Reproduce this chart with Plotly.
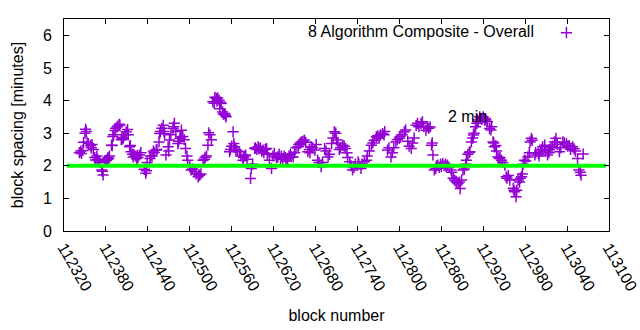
import plotly.graph_objects as go

# block numbers and block spacing (minutes)
blocks = [
    112342, 112344, 112345, 112347, 112348, 112350, 112351, 112352, 112353, 112355,
    112358, 112359, 112360, 112362, 112364, 112365, 112367, 112368, 112370, 112371,
    112374, 112375, 112376, 112378, 112379, 112381, 112382, 112383, 112384, 112385,
    112388, 112389, 112390, 112391, 112393, 112394, 112396, 112397, 112399, 112400,
    112402, 112403, 112404, 112405, 112407, 112409, 112411, 112412, 112414, 112415,
    112416, 112418, 112419, 112420, 112422, 112424, 112425, 112426, 112428, 112430,
    112435, 112437, 112438, 112439, 112443, 112444, 112446, 112448, 112449, 112452,
    112453, 112456, 112457, 112458, 112460, 112462, 112463, 112464, 112466, 112469,
    112470, 112471, 112473, 112476, 112477, 112478, 112480, 112483, 112484, 112486,
    112487, 112488, 112490, 112492, 112494, 112496, 112497, 112500, 112502, 112504,
    112507, 112509, 112512, 112513, 112514, 112516, 112519, 112521, 112522, 112524,
    112526, 112527, 112529, 112531, 112533, 112535, 112536, 112538, 112539, 112540,
    112542, 112543, 112544, 112545, 112547, 112548, 112550, 112551, 112552, 112557,
    112558, 112560, 112562, 112563, 112564, 112566, 112568, 112571, 112573, 112576,
    112577, 112579, 112580, 112582, 112587, 112588, 112590, 112593, 112594, 112596,
    112598, 112599, 112601, 112603, 112605, 112606, 112608, 112610, 112611, 112614,
    112617, 112619, 112621, 112624, 112626, 112628, 112630, 112631, 112633, 112635,
    112637, 112638, 112640, 112642, 112644, 112645, 112648, 112650, 112652, 112655,
    112656, 112658, 112660, 112662, 112664, 112666, 112669, 112671, 112672, 112674,
    112676, 112679, 112681, 112683, 112685, 112688, 112690, 112693, 112695, 112698,
    112700, 112703, 112705, 112707, 112709, 112710, 112712, 112714, 112716, 112719,
    112721, 112723, 112725, 112726, 112729, 112731, 112733, 112735, 112737, 112741,
    112742, 112745, 112747, 112750, 112753, 112754, 112757, 112760, 112762, 112764,
    112767, 112769, 112771, 112773, 112776, 112778, 112779, 112783, 112785, 112788,
    112790, 112792, 112795, 112797, 112800, 112801, 112804, 112807, 112809, 112812,
    112814, 112817, 112819, 112821, 112824, 112826, 112828, 112831, 112833, 112835,
    112838, 112840, 112842, 112844, 112846, 112847, 112848, 112850, 112852, 112853,
    112855, 112857, 112859, 112860, 112862, 112864, 112866, 112867, 112869, 112871,
    112874, 112875, 112877, 112879, 112881, 112882, 112884, 112886, 112887, 112889,
    112891, 112893, 112895, 112896, 112898, 112900, 112901, 112903, 112905, 112906,
    112907, 112909, 112911, 112912, 112913, 112915, 112917, 112918, 112920, 112922,
    112923, 112924, 112926, 112929, 112931, 112932, 112934, 112935, 112936, 112938,
    112939, 112941, 112943, 112944, 112946, 112948, 112951, 112953, 112954, 112956,
    112958, 112963, 112964, 112965, 112967, 112968, 112970, 112972, 112973, 112975,
    112976, 112977, 112979, 112981, 112984, 112986, 112987, 112989, 112990, 112994,
    112995, 112999, 113000, 113002, 113004, 113005, 113008, 113009, 113012, 113014,
    113015, 113017, 113019, 113022, 113024, 113026, 113029, 113031, 113034, 113036,
    113039, 113041, 113043, 113045, 113048, 113050, 113052, 113055, 113057, 113059,
    113060, 113063,
]
spacing = [
    2.40, 2.45, 2.38, 2.47, 2.72, 3.00, 3.12, 3.05, 2.72, 2.68,
    2.62, 2.55, 2.65, 2.50, 2.25, 2.18, 2.30, 2.20, 2.15, 2.10,
    1.87, 1.83, 1.72, 2.12, 2.15, 2.17, 2.20, 2.25, 2.22, 2.30,
    2.63, 2.62, 2.90, 2.95, 3.08, 3.15, 3.19, 3.22, 3.27, 3.25,
    2.80, 2.85, 2.82, 2.87, 2.95, 3.04, 3.11, 2.95, 2.58, 2.62,
    2.43, 2.35, 2.27, 2.35, 2.30, 2.22, 2.32, 2.25, 2.33, 2.40,
    1.89, 1.77, 1.85, 2.10, 2.22, 2.30, 2.30, 2.45, 2.40, 2.48,
    2.50, 2.73, 2.99, 3.05, 3.15, 3.24, 3.05, 2.98, 2.33, 2.58,
    2.45, 2.79, 2.95, 3.14, 3.20, 3.30, 3.05, 2.68, 2.75, 2.84,
    2.88, 3.09, 2.90, 2.80, 2.53, 2.30, 2.17, 2.00, 1.87, 1.90,
    1.82, 1.75, 1.66, 1.72, 1.71, 1.75, 2.17, 2.20, 2.26, 2.30,
    2.63, 3.01, 2.95, 2.80, 3.96, 3.92, 4.10, 4.06, 3.98, 4.08,
    4.01, 3.75, 3.95, 3.91, 3.65, 3.58, 3.60, 3.55, 3.50, 2.43,
    2.50, 2.60, 3.04, 2.68, 2.58, 2.50, 2.45, 2.43, 2.30, 2.17,
    2.25, 2.30, 2.33, 2.20, 1.61, 1.92, 2.05, 2.53, 2.55, 2.50,
    2.58, 2.52, 2.55, 2.45, 2.48, 2.40, 2.50, 2.53, 2.35, 2.17,
    1.92, 2.30, 2.38, 2.25, 2.27, 2.35, 2.20, 2.30, 2.22, 2.30,
    2.25, 2.15, 2.22, 2.30, 2.35, 2.28, 2.27, 2.40, 2.55, 2.58,
    2.65, 2.70, 2.73, 2.75, 2.79, 2.72, 2.43, 2.50, 2.40, 2.58,
    2.55, 2.48, 2.65, 2.17, 2.10, 1.97, 2.10, 2.53, 2.45, 2.27,
    2.35, 2.68, 2.85, 3.04, 3.00, 2.79, 2.70, 2.50, 2.55, 2.63,
    2.60, 2.53, 2.40, 2.25, 2.12, 2.00, 1.87, 1.95, 2.05, 2.12,
    2.05, 1.92, 2.05, 2.12, 2.17, 2.30, 2.45, 2.63, 2.70, 2.78,
    2.89, 2.92, 2.85, 2.95, 2.99, 2.95, 3.05, 2.48, 2.55, 2.27,
    2.40, 2.55, 2.73, 2.80, 2.84, 2.90, 2.95, 3.04, 3.10, 2.75,
    2.60, 2.53, 2.70, 2.85, 3.24, 3.30, 3.20, 3.30, 3.35, 3.20,
    3.09, 3.20, 3.15, 3.19, 2.63, 2.70, 2.33, 1.87, 1.92, 2.00,
    2.02, 1.95, 2.05, 1.98, 2.07, 2.00, 2.05, 1.98, 2.02, 1.95,
    1.87, 1.80, 1.62, 1.56, 1.52, 1.50, 1.46, 1.50, 1.30, 1.56,
    1.87, 1.90, 2.05, 2.17, 2.35, 2.40, 2.43, 2.73, 2.85, 2.94,
    3.00, 3.20, 3.30, 3.40, 3.35, 3.50, 3.45, 3.42, 3.50, 3.40,
    3.45, 3.40, 3.35, 3.14, 3.10, 3.20, 2.73, 2.70, 2.58, 2.62,
    2.45, 2.27, 2.22, 2.25, 2.17, 2.10, 2.02, 1.66, 1.62, 1.70,
    1.56, 1.31, 1.25, 1.20, 1.05, 1.25, 1.56, 1.50, 1.62, 1.66,
    1.75, 2.05, 2.17, 2.15, 2.27, 2.40, 2.73, 2.84, 2.78, 2.33,
    2.40, 2.38, 2.30, 2.45, 2.50, 2.58, 2.63, 2.45, 2.33, 2.40,
    2.50, 2.55, 2.60, 2.73, 2.84, 2.65, 2.43, 2.55, 2.73, 2.70,
    2.68, 2.60, 2.62, 2.50, 2.58, 2.52, 2.45, 2.22, 1.87, 1.80,
    1.71, 2.36,
]

# 2-minute target reference line
target_x = [112324, 113096]
target_y = [2, 2]

x_ticks = list(range(112320, 113101, 60))
y_ticks = [0, 1, 2, 3, 4, 5, 6]

series_name = "8 Algorithm Composite - Overall"
label_text = "2 min"
label_x, label_y = 112866, 3.5

FONT = "Liberation Sans, Arial, sans-serif"
PURPLE = "#9400d3"

fig = go.Figure()
fig.add_trace(go.Scatter(
    x=blocks, y=spacing, mode="markers", name="",
    marker=dict(symbol="cross-thin", size=8, color=PURPLE,
                line=dict(color=PURPLE, width=1.5)),
    showlegend=True,
))
fig.add_trace(go.Scatter(
    x=target_x, y=target_y, mode="lines", name="2 min",
    line=dict(color="#00ff00", width=4), showlegend=False,
))

fig.add_annotation(x=label_x, y=label_y, text=label_text, showarrow=False,
                   xanchor="left", yanchor="middle",
                   font=dict(size=16, color="black", family=FONT))

axis_common = dict(
    showline=True, linecolor="black", linewidth=1, mirror="ticks",
    ticks="inside", ticklen=5, tickcolor="black", tickwidth=1,
    showgrid=False, zeroline=False,
    tickfont=dict(size=16, color="black", family=FONT),
)

fig.update_layout(
    width=640, height=330,
    margin=dict(l=64, r=31, t=19, b=99, autoexpand=False),
    paper_bgcolor="white", plot_bgcolor="white",
    font=dict(family=FONT, size=16, color="black"),
    xaxis=dict(range=[112320, 113100.01], tickvals=x_ticks,
               ticktext=[str(v) for v in x_ticks], tickangle=60,
               ticklabeloverflow="allow",
               title=dict(text="block number", standoff=16,
                          font=dict(size=16, family=FONT)),
               **axis_common),
    yaxis=dict(range=[0, 6.5], tickvals=y_ticks,
               ticktext=[str(v) for v in y_ticks],
               ticklabelstandoff=8,
               title=dict(text="block spacing [minutes]", standoff=15,
                          font=dict(size=16, family=FONT)),
               **axis_common),
    legend=dict(
        orientation="h", x=0.969, xanchor="right", y=1.015, yanchor="top",
        bgcolor="rgba(0,0,0,0)",
        title=dict(text=series_name + "&nbsp;", side="left",
                   font=dict(size=16, family=FONT)),
        font=dict(size=16, family=FONT),
        itemwidth=30,
    ),
    showlegend=True,
)

fig.write_html("out.html")
